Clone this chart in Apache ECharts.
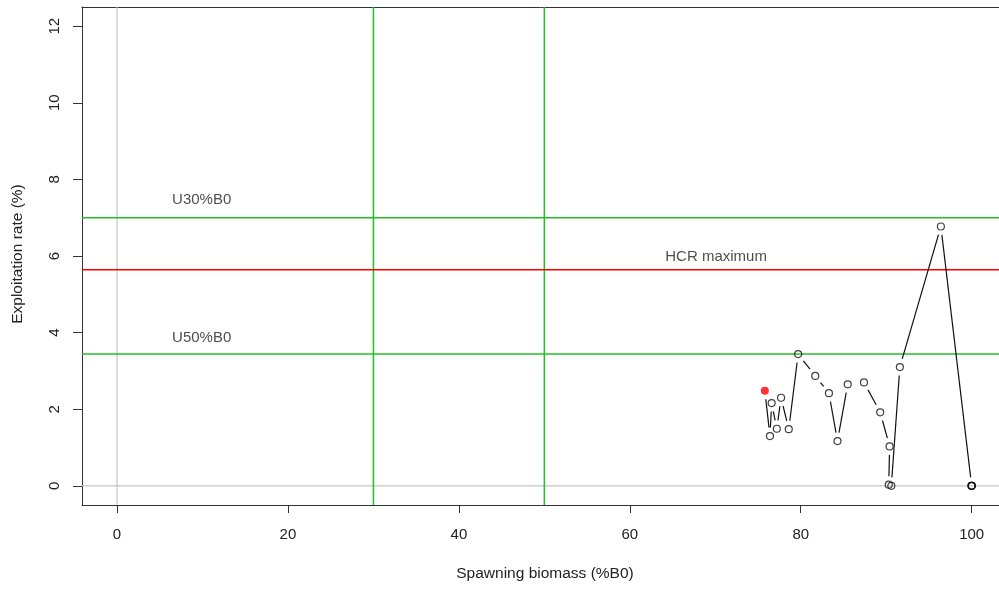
<!DOCTYPE html>
<html>
<head>
<meta charset="utf-8">
<script src="https://cdn.jsdelivr.net/npm/echarts@6/dist/echarts.min.js"></script>
<style>
  html, body { margin: 0; padding: 0; background: #fff; }
  #chart { width: 999px; height: 589px; }
</style>
</head>
<body>
<div id="chart"></div>
<script>
// Stock trajectory: spawning biomass (%B0) vs exploitation rate (%), in year order.
const biomass = [100, 100, 100, 100, 96.4, 91.6, 90.6, 90.3, 90.4, 89.3, 87.4, 85.5, 84.3, 83.3, 81.7, 79.7, 78.6, 77.7, 77.2, 76.6, 76.4, 75.8];
const exploitation = [0, 0, 0, 0, 6.77, 3.10, 0.00, 0.03, 1.03, 1.92, 2.70, 2.65, 1.17, 2.42, 2.87, 3.44, 1.48, 2.30, 1.49, 2.16, 1.30, 2.48];

// Reference levels
const refRateNames = ['U30%B0', 'HCR maximum', 'U50%B0'];
const refRates = [7.0, 5.64, 3.44];
const refRateColors = ['#22c022', '#ff0000', '#22c022'];
const refBiomass = [30, 50];
const refBiomassColors = ['#22c022', '#22c022'];

// Annotation text positions (data units)
const noteX = [9.9, 70.1, 9.9];
const noteY = [7.46, 5.97, 3.86];

const xTicks = [0, 20, 40, 60, 80, 100];
const yTicks = [0, 2, 4, 6, 8, 10, 12];

const FONT = 'Liberation Sans, Arial, sans-serif';
const GAP = 8.5;
const GRAY = '#c4c4c4';

const pts = biomass.map((b, i) => [b, exploitation[i]]);
const lastPt = pts[pts.length - 1];
const segs = [];
for (let i = 0; i < pts.length - 1; i++) {
  segs.push([pts[i][0], pts[i][1], pts[i + 1][0], pts[i + 1][1]]);
}

// full-width horizontal or full-height vertical rule at a data value
function rules(values, colors, vertical, width) {
  return {
    type: 'custom', silent: true, z: 1,
    data: values.map(v => (vertical ? [v, 0] : [0, v])),
    renderItem: function (params, api) {
      const cs = params.coordSys;
      const p = api.coord([api.value(0), api.value(1)]);
      const shape = vertical
        ? { x1: p[0], y1: cs.y, x2: p[0], y2: cs.y + cs.height }
        : { x1: cs.x, y1: p[1], x2: cs.x + cs.width, y2: p[1] };
      return { type: 'line', shape: shape, style: { stroke: colors[params.dataIndex], lineWidth: width } };
    }
  };
}

const chart = echarts.init(document.getElementById('chart'), null, { renderer: 'canvas' });

const axisLine = { show: true, onZero: false, lineStyle: { color: '#333', width: 1 } };

const series = [
  rules([0], [GRAY], true, 1.2),
  rules([0], [GRAY], false, 1.2),
  rules(refBiomass, refBiomassColors, true, 1.5),
  rules(refRates, refRateColors, false, 1.5),
  {
    // connecting segments, broken around each point
    type: 'custom', silent: true, z: 2,
    data: segs,
    encode: { x: [0, 2], y: [1, 3] },
    renderItem: function (params, api) {
      const p1 = api.coord([api.value(0), api.value(1)]);
      const p2 = api.coord([api.value(2), api.value(3)]);
      const dx = p2[0] - p1[0], dy = p2[1] - p1[1];
      const len = Math.sqrt(dx * dx + dy * dy);
      if (len <= 2 * GAP) return null;
      const ux = dx / len, uy = dy / len;
      return {
        type: 'line',
        shape: { x1: p1[0] + ux * GAP, y1: p1[1] + uy * GAP, x2: p2[0] - ux * GAP, y2: p2[1] - uy * GAP },
        style: { stroke: '#111', lineWidth: 1.2 }
      };
    }
  },
  {
    type: 'scatter', silent: true, z: 3,
    data: pts.slice(0, pts.length - 1),
    symbol: 'circle', symbolSize: 7,
    itemStyle: { color: 'rgba(255,255,255,0)', borderColor: '#111', borderWidth: 1.2 }
  },
  {
    type: 'scatter', silent: true, z: 3,
    data: [lastPt],
    symbol: 'circle', symbolSize: 8,
    itemStyle: { color: '#ff0000' }
  },
  {
    // annotations for reference lines
    type: 'scatter', silent: true, z: 3,
    symbolSize: 0,
    data: refRateNames.map((n, i) => ({ value: [noteX[i], noteY[i]], name: n })),
    label: { show: true, position: 'inside', formatter: '{b}', fontFamily: FONT, fontSize: 15, color: '#222' }
  }
];

chart.setOption({
  animation: false,
  backgroundColor: '#fff',
  grid: { left: 82, right: 0, top: 7, bottom: 84, containLabel: false },
  xAxis: [{
    type: 'value', min: -4.1, max: 103.2,
    axisLine: axisLine,
    axisTick: { show: true, length: 8, lineStyle: { color: '#333' }, customValues: xTicks },
    axisLabel: { show: true, margin: 22, fontFamily: FONT, fontSize: 15, color: '#222', customValues: xTicks },
    splitLine: { show: false }
  }, {
    type: 'value', position: 'top', min: -4.1, max: 103.2,
    axisLine: axisLine, axisTick: { show: false }, axisLabel: { show: false }, splitLine: { show: false }
  }],
  yAxis: {
    type: 'value', min: -0.5, max: 12.5,
    axisLine: axisLine,
    axisTick: { show: true, length: 9, lineStyle: { color: '#333' }, customValues: yTicks },
    axisLabel: { show: true, rotate: 90, margin: 20, fontFamily: FONT, fontSize: 15, color: '#222', customValues: yTicks },
    splitLine: { show: false }
  },
  graphic: [
    { type: 'text', x: 545, y: 574, style: { text: 'Spawning biomass (%B0)', font: '15.5px ' + FONT, fill: '#222', textAlign: 'center', textVerticalAlign: 'middle' } },
    { type: 'text', x: 18, y: 254, rotation: Math.PI / 2, style: { text: 'Exploitation rate (%)', font: '15.5px ' + FONT, fill: '#222', textAlign: 'center', textVerticalAlign: 'middle' } }
  ],
  series: series
});
</script>
</body>
</html>
